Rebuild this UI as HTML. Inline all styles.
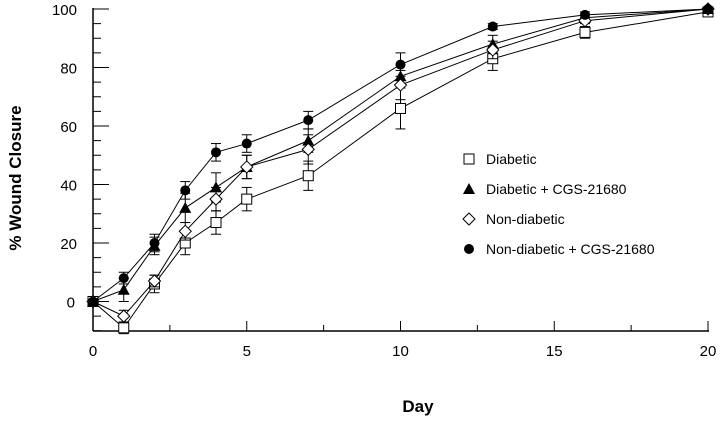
<!DOCTYPE html>
<html><head><meta charset="utf-8"><style>
body{margin:0;background:#fff;}
svg{display:block;font-family:"Liberation Sans",Arial,sans-serif;}
</style></head><body>
<svg id="chart" width="720" height="422" xmlns="http://www.w3.org/2000/svg"></svg>
<script>
const days=[0,1,2,3,4,5,7,10,13,16,20];
const diabetic=[0,-9,6,20,27,35,43,66,83,92,99];
const diabeticErr=[0,2,3,4,4,4,5,7,4,2,0];
const diabeticCgs=[0,4,19,32,39,46,55,77,88,97,100];
const diabeticCgsErr=[0,4,3,5,5,4,4,4,3,1,0];
const nonDiabetic=[0,-5,7,24,35,46,52,74,86,96,100];
const nonDiabeticErr=[0,2,2,3,4,4,5,5,3,1,0];
const nonDiabeticCgs=[0,8,20,38,51,54,62,81,94,98,100];
const nonDiabeticCgsErr=[0,2,3,3,3,3,3,4,1,1,0];
const xTicks=[0,5,10,15,20];
const yTicks=[0,20,40,60,80,100];
const legendLabels=["Diabetic","Diabetic + CGS-21680","Non-diabetic","Non-diabetic + CGS-21680"];

const svg=document.getElementById('chart');
const NS='http://www.w3.org/2000/svg';
const X=d=>93+d*30.75;
const Y=v=>301.5-v*2.925;
function mk(t,a,parent){const e=document.createElementNS(NS,t);for(const k in a)e.setAttribute(k,a[k]);(parent||svg).appendChild(e);return e;}

let ax=mk('line',{x1:93,y1:8,x2:93,y2:331,stroke:'#000','stroke-width':1.5});


ax=mk('line',{x1:93,y1:331,x2:709,y2:331,stroke:'#000','stroke-width':1.5});


for(let v=-10;v<=100;v+=5){const major=v%20===0;mk('line',{x1:93,y1:Y(v),x2:93+(major?16:8),y2:Y(v),stroke:'#000','stroke-width':1});}
for(let d=0;d<=20;d+=2.5){mk('line',{x1:X(d),y1:331,x2:X(d),y2:d%5===0?321:325,stroke:'#000','stroke-width':1});}
yTicks.forEach(v=>{const t=mk('text',{x:v===0?75:77,y:Y(v)+6,'text-anchor':'end','font-size':15});t.textContent=v;

});
xTicks.forEach(d=>{const t=mk('text',{x:X(d),y:356,'text-anchor':'middle','font-size':15});t.textContent=d;

});
let t=mk('text',{x:418,y:412,'text-anchor':'middle','font-size':17,'font-weight':'bold'});t.textContent='Day';


t=mk('text',{x:0,y:0,'text-anchor':'middle','font-size':17,'font-weight':'bold',transform:'translate(21,178) rotate(-90)'});t.textContent='% Wound Closure';



function marker(shape,cx,cy,g){
  if(shape==='square')return mk('rect',{x:cx-5,y:cy-5,width:10,height:10,fill:'#fff',stroke:'#000','stroke-width':1},g);
  if(shape==='triangle')return mk('polygon',{points:`${cx},${cy-6} ${cx-6},${cy+5} ${cx+6},${cy+5}`,fill:'#000'},g);
  if(shape==='diamond')return mk('polygon',{points:`${cx},${cy-6} ${cx+6},${cy} ${cx},${cy+6} ${cx-6},${cy}`,fill:'#fff',stroke:'#000','stroke-width':1},g);
  return mk('circle',{cx:cx,cy:cy,r:5,fill:'#000'},g);
}
const series=[[diabetic,diabeticErr,'square','diabetic'],[diabeticCgs,diabeticCgsErr,'triangle','diabetic-cgs'],[nonDiabetic,nonDiabeticErr,'diamond','non-diabetic'],[nonDiabeticCgs,nonDiabeticCgsErr,'circle','non-diabetic-cgs']];
series.forEach(([vals,errs,shape,name])=>{
  const g=mk('g',{});
  
  
  mk('polyline',{points:days.map((d,i)=>X(d)+','+Y(vals[i])).join(' '),fill:'none',stroke:'#000','stroke-width':1},g);
  days.forEach((d,i)=>{
    if(errs[i]>0){const x=X(d),y1=Y(vals[i]+errs[i]),y2=Y(vals[i]-errs[i]);
      mk('line',{x1:x,y1:y1,x2:x,y2:y2,stroke:'#000','stroke-width':1},g);
      mk('line',{x1:x-5,y1:y1,x2:x+5,y2:y1,stroke:'#000','stroke-width':1},g);
      mk('line',{x1:x-5,y1:y2,x2:x+5,y2:y2,stroke:'#000','stroke-width':1},g);}
    const m=marker(shape,X(d),Y(vals[i]),g);
    
    
  });
});
const lg=mk('g',{});


const shapes=['square','triangle','diamond','circle'];
legendLabels.forEach((lab,i)=>{
  const y=159+i*30;
  marker(shapes[i],469,y,lg);
  const tx=mk('text',{x:486,y:y+5,'font-size':14},lg);tx.textContent=lab;
  
  
});
</script>
</body></html>
